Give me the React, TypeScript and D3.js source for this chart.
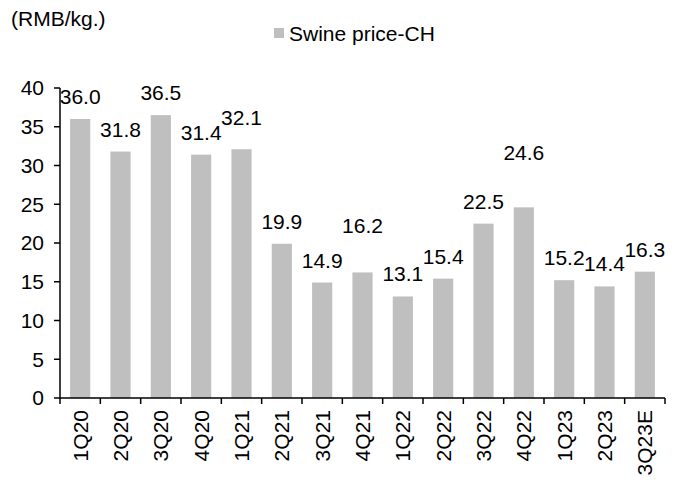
import React from "react";
import * as d3 from "d3";

const categories = ["1Q20","2Q20","3Q20","4Q20","1Q21","2Q21","3Q21","4Q21","1Q22","2Q22","3Q22","4Q22","1Q23","2Q23","3Q23E"];
const swinePrice = [36.0,31.8,36.5,31.4,32.1,19.9,14.9,16.2,13.1,15.4,22.5,24.6,15.2,14.4,16.3];
const yTicks = [0,5,10,15,20,25,30,35,40];
const seriesName = "Swine price-CH";
const unitLabel = "(RMB/kg.)";

// extra manual lift (px) of individual data labels, as placed in the original
const labelLift: Record<number, number> = { 4: 9, 7: 24, 11: 32 };

const W = 678, H = 482;
const m = { left: 60, right: 13, top: 88, bottom: 84 };
const FONT = "'Liberation Sans', Arial, sans-serif";
const FS = 21;

export default function App() {
  const x = d3.scaleBand<string>().domain(categories).range([m.left, W - m.right]).paddingInner(0.5).paddingOuter(0.25);
  const y = d3.scaleLinear().domain([0, 40]).range([H - m.bottom, m.top]);
  const step = x.step();
  const x0 = m.left, x1 = W - m.right, y0 = y(0);
  return (
    <svg width={W} height={H} style={{ position: "absolute", left: 0, top: 0, background: "#fff" }} fontFamily={FONT}>
      <text x={11} y={26} fontSize={FS} fill="#000">{unitLabel}</text>
      <rect x={274} y={28} width={10} height={10} fill="#bfbfbf" />
      <text x={289} y={41} fontSize={FS} fill="#000">{seriesName}</text>
      {swinePrice.map((v, i) => (
        <rect key={i} x={x(categories[i])!} y={y(v)} width={x.bandwidth()} height={y0 - y(v)} fill="#bfbfbf" />
      ))}
      {swinePrice.map((v, i) => (
        <text key={"l" + i} x={x(categories[i])! + x.bandwidth() / 2} y={y(v) - 15 - (labelLift[i] || 0)} fontSize={FS} textAnchor="middle" fill="#000">{v.toFixed(1)}</text>
      ))}
      <line x1={x0} x2={x0} y1={y(40)} y2={y0} stroke="#000" strokeWidth={1.5} />
      {yTicks.map(t => (
        <g key={"y" + t}>
          <line x1={x0 - 6} x2={x0} y1={y(t)} y2={y(t)} stroke="#000" strokeWidth={1.5} />
          <text x={44} y={y(t)} dy="0.35em" fontSize={FS} textAnchor="end" fill="#000">{t}</text>
        </g>
      ))}
      <line x1={x0} x2={x1} y1={y0} y2={y0} stroke="#000" strokeWidth={1.5} />
      {d3.range(categories.length + 1).map(i => (
        <line key={"xt" + i} x1={x0 + i * step} x2={x0 + i * step} y1={y0} y2={y0 + 6} stroke="#000" strokeWidth={1.5} />
      ))}
      {categories.map(c => {
        const cx = x(c)! + x.bandwidth() / 2;
        return (
          <text key={"c" + c} transform={`translate(${cx},${y0 + 12}) rotate(-90)`} dy="0.35em" fontSize={FS} textAnchor="end" fill="#000">{c}</text>
        );
      })}
    </svg>
  );
}
